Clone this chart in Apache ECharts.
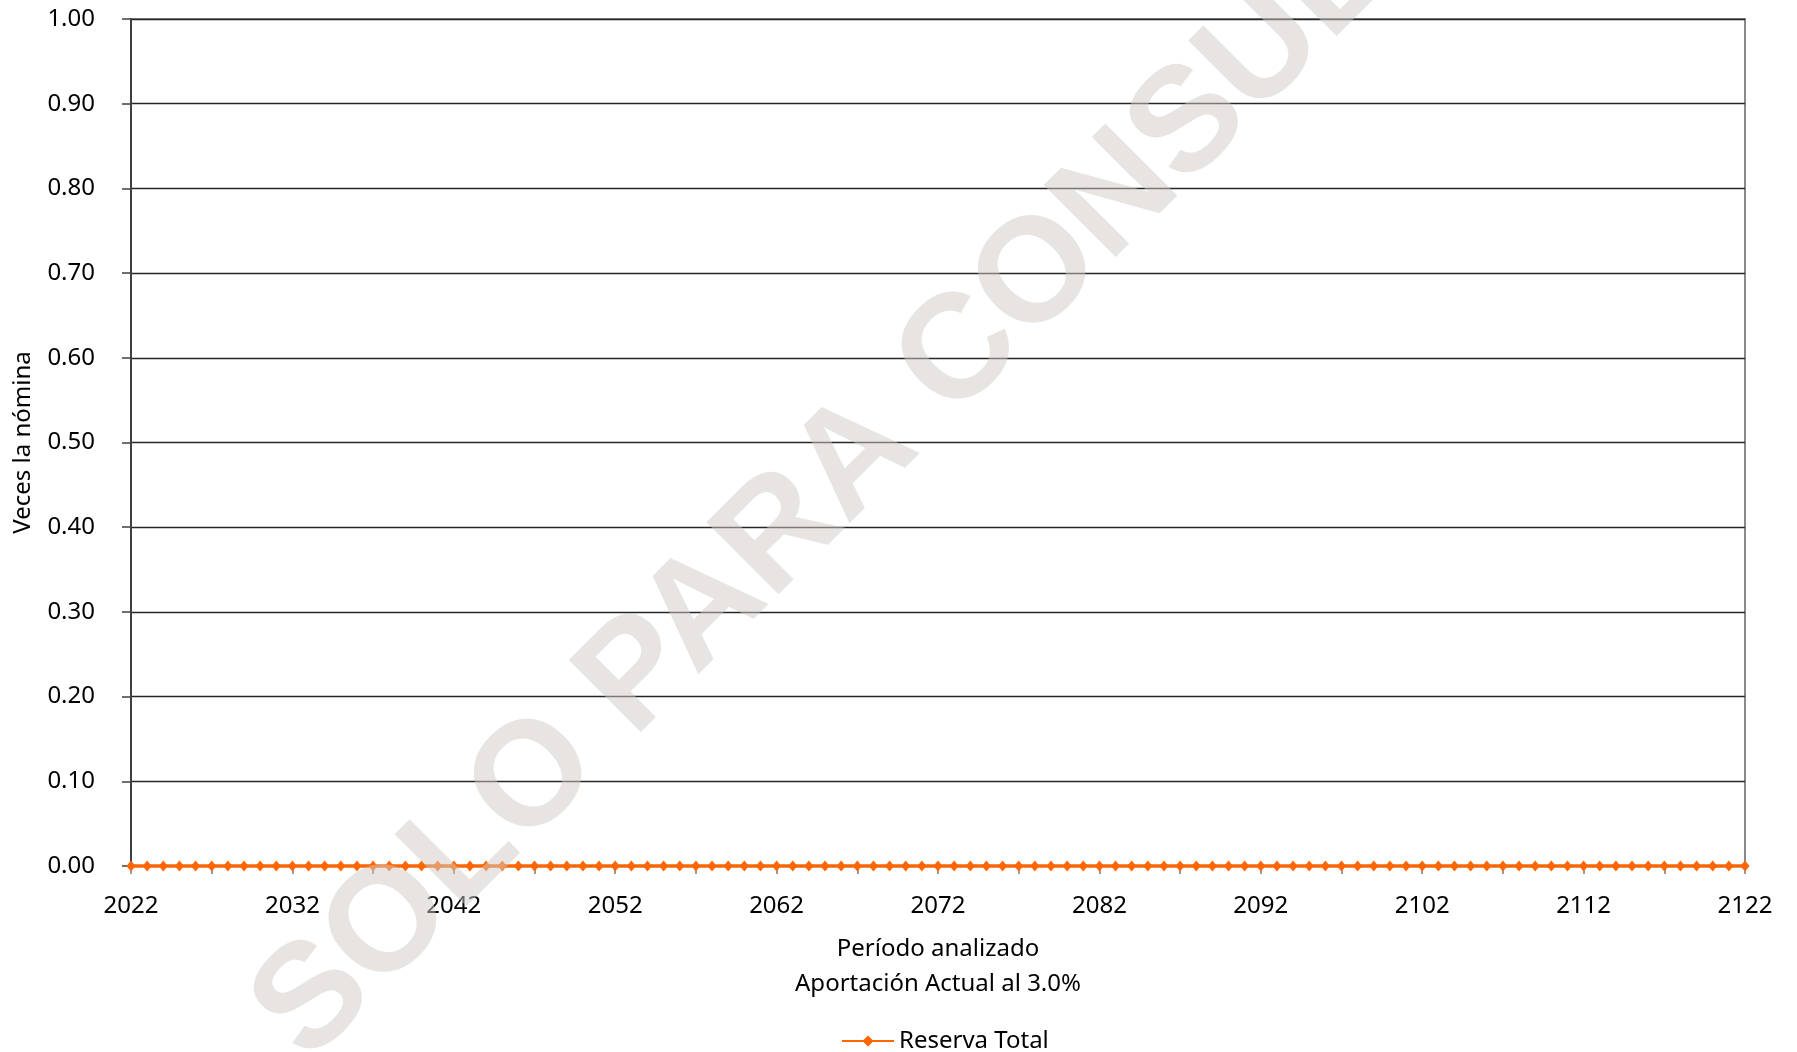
<!DOCTYPE html>
<html>
<head>
<meta charset="utf-8">
<script src="https://cdn.jsdelivr.net/npm/echarts@6/dist/echarts.min.js"></script>
<style>
html,body{margin:0;padding:0;background:#fff;}
#chart{width:1797px;height:1052px;}
</style>
</head>
<body>
<div id="chart"></div>
<script>
const years = [
  '2022','2023','2024','2025','2026','2027','2028','2029','2030','2031',
  '2032','2033','2034','2035','2036','2037','2038','2039','2040','2041',
  '2042','2043','2044','2045','2046','2047','2048','2049','2050','2051',
  '2052','2053','2054','2055','2056','2057','2058','2059','2060','2061',
  '2062','2063','2064','2065','2066','2067','2068','2069','2070','2071',
  '2072','2073','2074','2075','2076','2077','2078','2079','2080','2081',
  '2082','2083','2084','2085','2086','2087','2088','2089','2090','2091',
  '2092','2093','2094','2095','2096','2097','2098','2099','2100','2101',
  '2102','2103','2104','2105','2106','2107','2108','2109','2110','2111',
  '2112','2113','2114','2115','2116','2117','2118','2119','2120','2121',
  '2122'
];
const reservaTotal = [
  0,0,0,0,0,0,0,0,0,0,
  0,0,0,0,0,0,0,0,0,0,
  0,0,0,0,0,0,0,0,0,0,
  0,0,0,0,0,0,0,0,0,0,
  0,0,0,0,0,0,0,0,0,0,
  0,0,0,0,0,0,0,0,0,0,
  0,0,0,0,0,0,0,0,0,0,
  0,0,0,0,0,0,0,0,0,0,
  0,0,0,0,0,0,0,0,0,0,
  0,0,0,0,0,0,0,0,0,0,
  0
];
const seriesName = 'Reserva Total';
const yAxisTitle = 'Veces la nómina';
const xAxisTitle = 'Período analizado\nAportación Actual al 3.0%';
const watermarkText = 'SOLO PARA CONSULTA';

const FONT = '"Noto Sans", "Open Sans", sans-serif';
const chart = echarts.init(document.getElementById('chart'), null, {renderer: 'canvas'});
chart.setOption({
  backgroundColor: '#ffffff',
  animation: false,
  textStyle: {fontFamily: FONT, color: '#000'},
  grid: {
    left: 131, right: 52, top: 19, bottom: 186,
    containLabel: false, outerBoundsMode: 'none',
    show: true, borderColor: '#8a8a8a', borderWidth: 2, backgroundColor: 'transparent'
  },
  legend: {
    data: [seriesName],
    left: 836, top: 1024,
    itemWidth: 52, itemHeight: 14,
    textStyle: {fontFamily: FONT, fontSize: 24, color: '#000'}
  },
  xAxis: {
    type: 'category',
    data: years,
    boundaryGap: false,
    name: xAxisTitle,
    nameLocation: 'middle',
    nameGap: 66,
    nameTextStyle: {fontFamily: FONT, fontSize: 24, color: '#000', lineHeight: 35},
    axisLine: {show: true, lineStyle: {color: '#8a8a8a', width: 2}},
    axisTick: {show: true, interval: 4, length: 8, lineStyle: {color: '#7a7a7a', width: 1.5}},
    axisLabel: {interval: 9, margin: 28, fontFamily: FONT, fontSize: 24, color: '#000'},
    splitLine: {show: false}
  },
  yAxis: {
    type: 'value',
    min: 0, max: 1, interval: 0.1,
    name: yAxisTitle,
    nameLocation: 'middle',
    nameGap: 96,
    nameTextStyle: {fontFamily: FONT, fontSize: 24, color: '#000'},
    axisLine: {show: true, lineStyle: {color: '#404040', width: 2}},
    axisTick: {show: true, inside: false, length: 9, lineStyle: {color: '#404040', width: 1.5}},
    axisLabel: {margin: 36, fontFamily: FONT, fontSize: 24, color: '#000',
      formatter: v => v.toFixed(2)},
    splitLine: {show: true, lineStyle: {color: '#262626', width: 1.3}}
  },
  series: [{
    name: seriesName,
    type: 'line',
    data: reservaTotal,
    symbol: 'diamond',
    symbolSize: [9, 11],
    showSymbol: true,
    showAllSymbol: true,
    lineStyle: {color: '#ff6600', width: 3.5},
    itemStyle: {color: '#ff6600', borderWidth: 0},
    z: 5
  }],
  graphic: [{
    type: 'text',
    x: 884, y: 431,
    rotation: 45 * Math.PI / 180,
    z: 100,
    silent: true,
    style: {
      text: watermarkText,
      font: 'bold 148px "Liberation Sans", Arial, sans-serif',
      fill: 'rgba(210,202,196,0.5)',
      align: 'center',
      verticalAlign: 'middle'
    }
  }]
});
</script>
</body>
</html>
